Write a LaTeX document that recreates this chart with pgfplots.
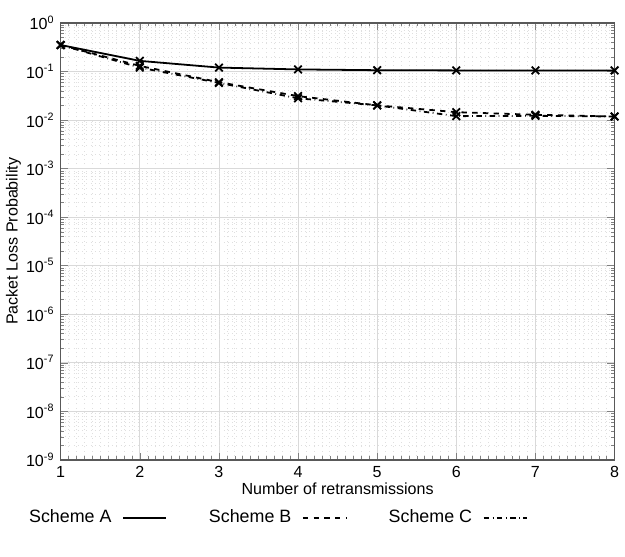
\documentclass[border=0pt]{standalone}
\usepackage{pgfplots}
\pgfplotsset{compat=1.18}
\usepackage{fontspec}
\setmainfont{Liberation Sans}

\begin{document}
\begin{tikzpicture}
\begin{axis}[
  scale only axis,
  width=10.9cm, height=8.6cm,
  ymode=log,
  xmin=1, xmax=8, ymin=1e-9, ymax=1,
  xtick={1,...,8},
  minor x tick num=9,
  ytick={1e-9,1e-8,1e-7,1e-6,1e-5,1e-4,1e-3,1e-2,1e-1,1},
  yticklabels={10\textsuperscript{-9},10\textsuperscript{-8},10\textsuperscript{-7},10\textsuperscript{-6},10\textsuperscript{-5},10\textsuperscript{-4},10\textsuperscript{-3},10\textsuperscript{-2},10\textsuperscript{-1},10\textsuperscript{0}},
  /pgf/number format/assume math mode=true,
  tick label style={font=\small},
  label style={font=\small},
  xlabel={Number of retransmissions},
  ylabel={Packet Loss Probability},
  xlabel style={yshift=4pt},
  ylabel style={yshift=-4pt},
  tick align=inside,
  major tick length=4pt, minor tick length=2pt,
  axis line style={gray!70!black, line width=0.8pt},
  grid=both,
  major grid style={gray!30, line width=0.4pt},
  minor grid style={gray!25, dotted, line width=0.3pt},
  legend style={at={(0.39,-0.097)}, anchor=north, draw=none, legend columns=3,
    font=\normalsize,
    /tikz/every odd column/.append style={column sep=4pt},
    /tikz/every even column/.append style={column sep=0.75cm}},
  legend plot pos=right,
  legend image code/.code={\draw[#1, mark=none] (0cm,0cm) -- (0.85cm,0cm);},
]
\addplot[black, solid, line width=1pt, mark=x, mark size=3pt, mark options={solid, line width=1pt}]
  coordinates {(1,0.35) (2,0.165) (3,0.12) (4,0.11) (5,0.106) (6,0.105) (7,0.105) (8,0.105)};
\addlegendentry{Scheme A}
\addplot[black, dashed, line width=1pt, mark=x, mark size=3pt, mark options={solid, line width=1pt}]
  coordinates {(1,0.35) (2,0.13) (3,0.06) (4,0.031) (5,0.02) (6,0.0145) (7,0.0128) (8,0.0118)};
\addlegendentry{Scheme B}
\addplot[black, dash dot, line width=1pt, mark=x, mark size=3pt, mark options={solid, line width=1pt}]
  coordinates {(1,0.35) (2,0.12) (3,0.058) (4,0.028) (5,0.02) (6,0.012) (7,0.0122) (8,0.0118)};
\addlegendentry{Scheme C}
\end{axis}
\path ([yshift=0.45cm]current axis.north);
\path ([yshift=-0.48cm]current bounding box.south);
\end{tikzpicture}
\end{document}
